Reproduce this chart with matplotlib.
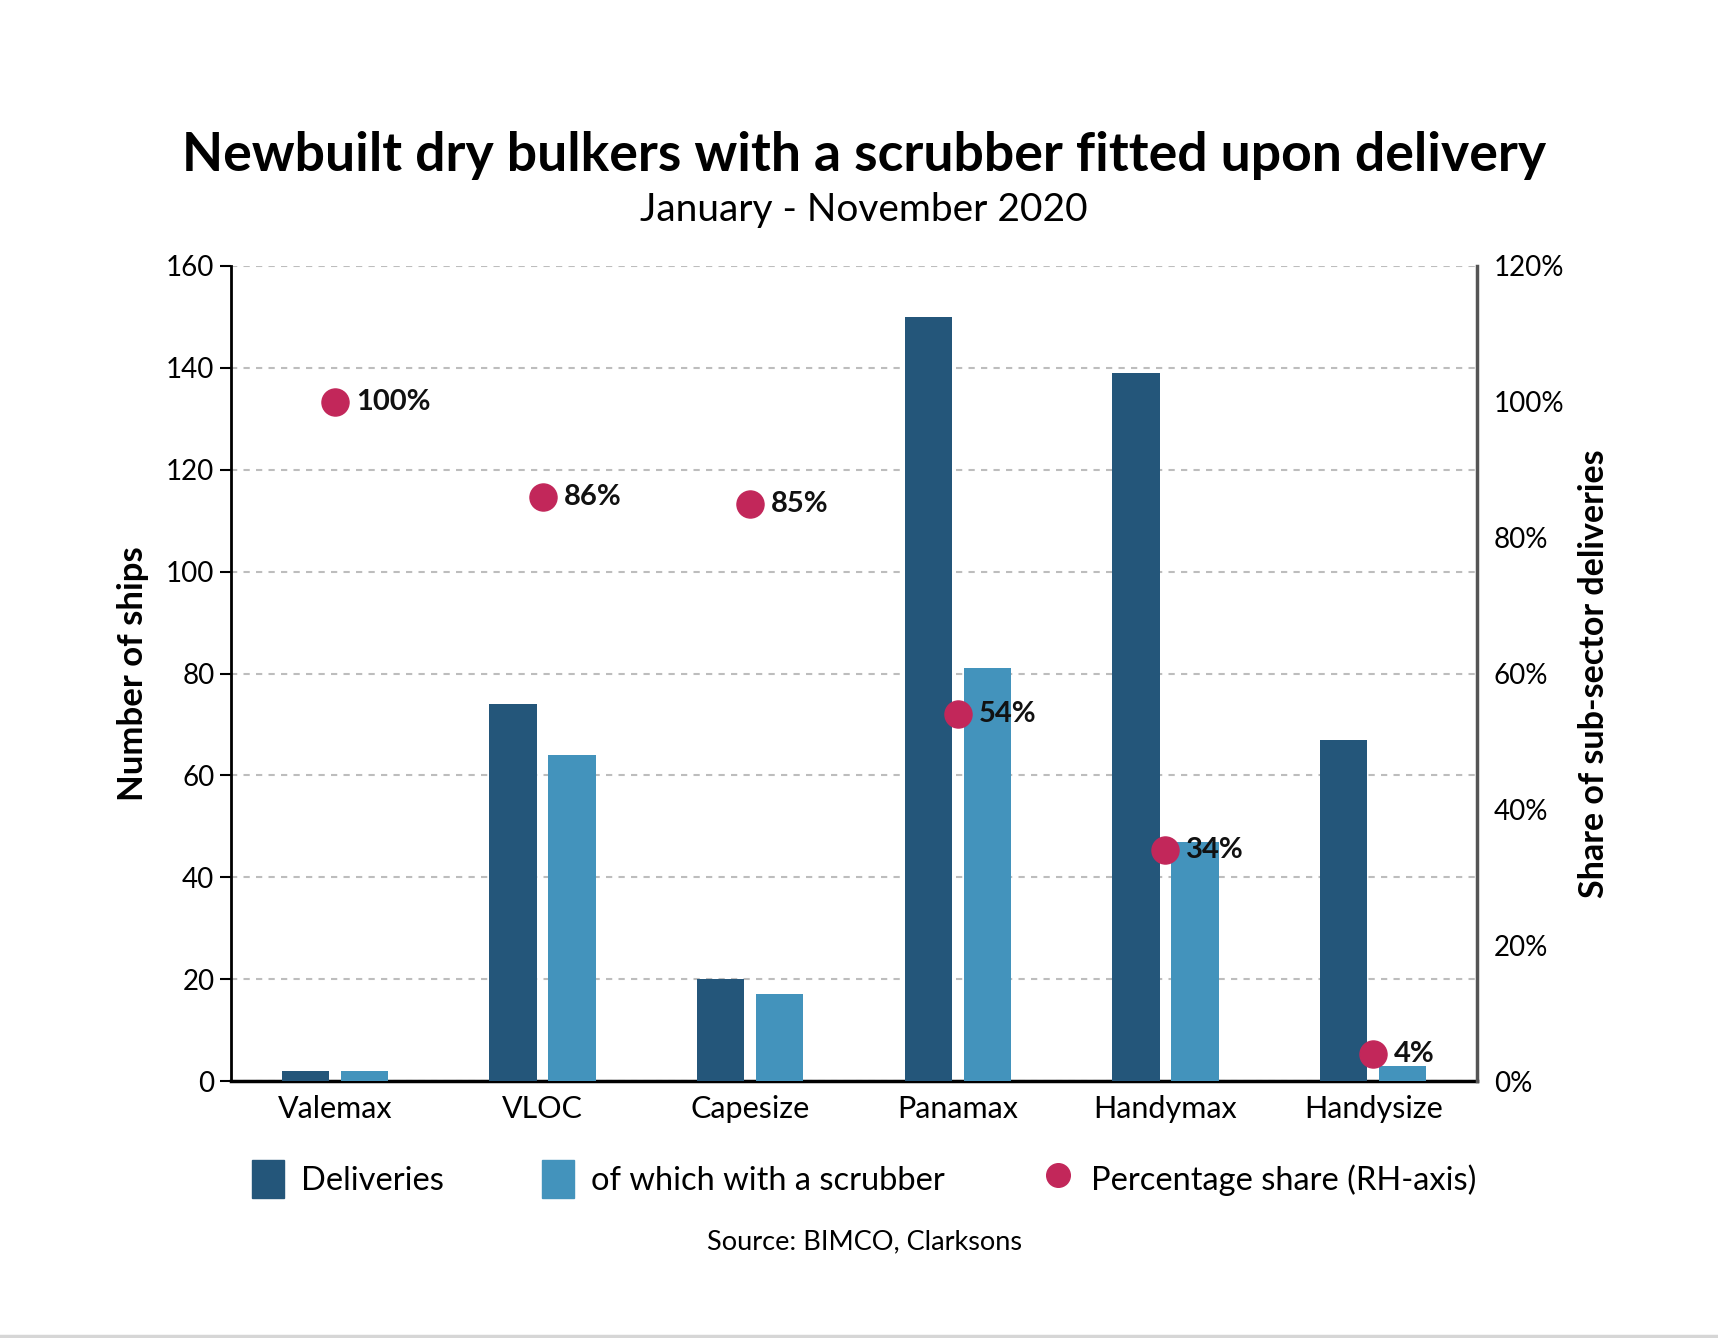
import matplotlib
matplotlib.use('Agg')
import matplotlib.pyplot as plt
import numpy as np
from matplotlib.lines import Line2D
from matplotlib.patches import Patch

plt.rcParams['font.family'] = ['Lato', 'DejaVu Sans']

categories = ['Valemax', 'VLOC', 'Capesize', 'Panamax', 'Handymax', 'Handysize']
deliveries = [2, 74, 20, 150, 139, 67]
with_scrubber = [2, 64, 17, 81, 47, 3]
share_pct = [100, 86, 85, 54, 34, 4]

dark_blue = '#24567a'
light_blue = '#4393bc'
dot_color = '#c2275a'

fig = plt.figure(figsize=(17.18, 13.38), dpi=100)
ax = fig.add_axes([0.1345, 0.192, 0.7252, 0.6092])
ax2 = ax.twinx()

x = np.arange(len(categories))
w = 0.227
off = 0.142
ax.bar(x - off, deliveries, w, color=dark_blue, zorder=3)
ax.bar(x + off, with_scrubber, w, color=light_blue, zorder=3)

ax2.scatter(x, share_pct, s=380, color=dot_color, zorder=5)
for xi, p in zip(x, share_pct):
    ax2.annotate(f'{p}%', (xi, p), xytext=(15, 0), textcoords='offset points',
                 va='center', ha='left', fontsize=21, fontweight='bold', color='#111111')

ax.set_xlim(-0.5, 5.5)
ax.set_ylim(0, 160)
ax.set_yticks(range(0, 161, 20))
ax2.set_ylim(0, 120)
ax2.set_yticks(range(0, 121, 20))
ax2.set_yticklabels([f'{v}%' for v in range(0, 121, 20)])

ax.grid(axis='y', linestyle=(0, (3, 3)), color='#bdbdbd', linewidth=1.5, zorder=0)
ax.set_axisbelow(True)
ax.set_xticks(x)
ax.set_xticklabels(categories, fontsize=22)
ax.tick_params(axis='x', length=0, pad=10)
ax.tick_params(axis='y', labelsize=20, length=8, width=1.5, pad=4)
ax2.tick_params(axis='y', labelsize=20, length=0, pad=12)

ax.spines['top'].set_visible(False)
ax2.spines['top'].set_visible(False)
ax.spines['left'].set_linewidth(2)
ax.spines['bottom'].set_linewidth(2.5)
ax2.spines['right'].set_linewidth(2.5)
ax2.spines['right'].set_color('#555555')
ax2.spines['left'].set_visible(False)
ax2.spines['bottom'].set_visible(False)

ax.set_ylabel('Number of ships', fontsize=25, fontweight='bold', labelpad=12)
ax2.set_ylabel('Share of sub-sector deliveries', fontsize=24.5, fontweight='bold', labelpad=10)

fig.text(0.503, 0.884, 'Newbuilt dry bulkers with a scrubber fitted upon delivery',
         ha='center', va='center', fontsize=38.5, fontweight='bold')
fig.text(0.503, 0.843, 'January - November 2020', ha='center', va='center', fontsize=28)

handles = [Patch(color=dark_blue), Patch(color=light_blue),
           Line2D([], [], marker='o', linestyle='', markersize=17, color=dot_color)]
labels = ['Deliveries', 'of which with a scrubber', 'Percentage share (RH-axis)']
fig.legend(handles, labels, loc='center', bbox_to_anchor=(0.503, 0.119), ncol=3,
           frameon=False, fontsize=23.5, handlelength=1.0, handleheight=1.4,
           columnspacing=3.0, handletextpad=0.5)

fig.text(0.503, 0.072, 'Source: BIMCO, Clarksons', ha='center', va='center', fontsize=19.5)

fig.add_artist(Line2D([0, 1], [0.0012, 0.0012], color='#d6d6d6', linewidth=2.5,
                      transform=fig.transFigure))

fig.savefig('out.png', dpi=100)
